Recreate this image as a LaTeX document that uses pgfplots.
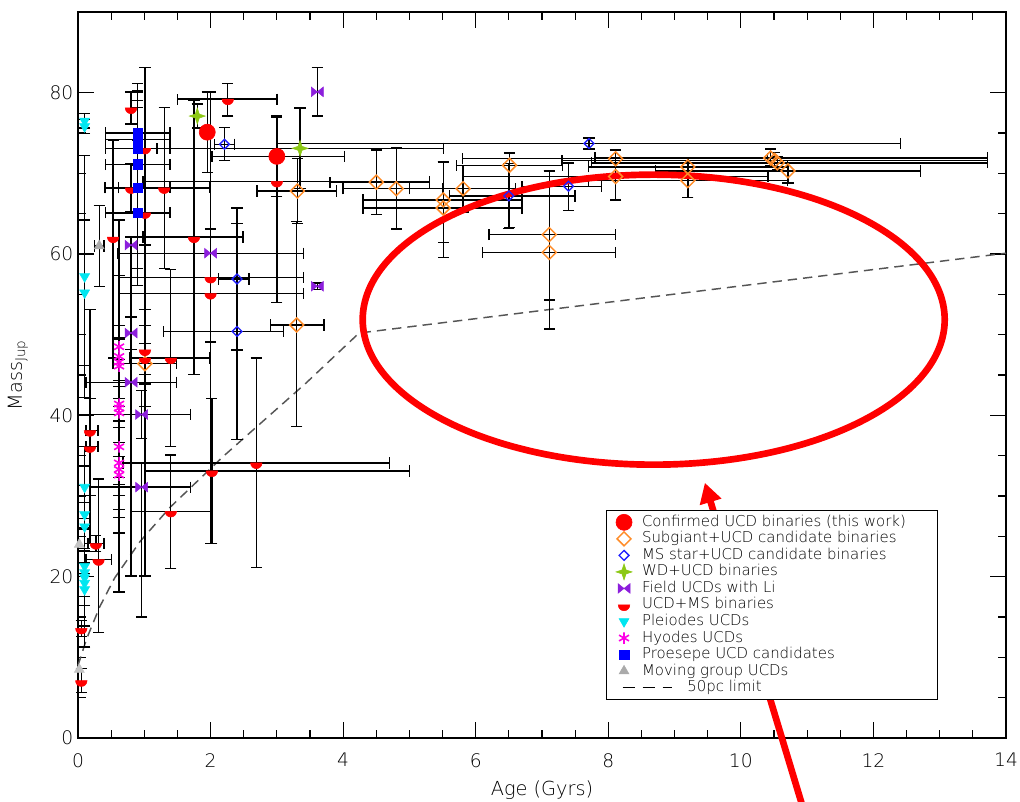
\documentclass[border=0pt]{standalone}
\usepackage{fontspec}
\setmainfont{DejaVu Sans ExtraLight}
\usepackage{pgfplots}
\pgfplotsset{compat=1.18}
\usetikzlibrary{arrows.meta}

\definecolor{cfred}{RGB}{255,0,0}
\definecolor{sgorange}{RGB}{255,140,40}
\definecolor{msblue}{RGB}{30,30,255}
\definecolor{wdgreen}{RGB}{140,200,20}
\definecolor{lipurple}{RGB}{140,30,220}
\definecolor{plcyan}{RGB}{0,230,240}
\definecolor{hymag}{RGB}{255,0,230}
\definecolor{prblue}{RGB}{0,0,255}
\definecolor{mggrey}{RGB}{170,170,170}
\definecolor{limgrey}{RGB}{85,85,85}

% lower half of a disc (UCD+MS binaries)
\pgfdeclareplotmark{halfdisc}{%
  \pgfpathmoveto{\pgfqpoint{-\pgfplotmarksize}{0pt}}%
  \pgfpathlineto{\pgfqpoint{\pgfplotmarksize}{0pt}}%
  \pgfpatharc{0}{-180}{\pgfplotmarksize}%
  \pgfpathclose
  \pgfusepathqfillstroke}
% four-pointed star (WD+UCD)
\pgfdeclareplotmark{star4}{%
  \pgfpathmoveto{\pgfqpoint{0pt}{\pgfplotmarksize}}%
  \pgfpathlineto{\pgfqpoint{0.25\pgfplotmarksize}{0.25\pgfplotmarksize}}%
  \pgfpathlineto{\pgfqpoint{\pgfplotmarksize}{0pt}}%
  \pgfpathlineto{\pgfqpoint{0.25\pgfplotmarksize}{-0.25\pgfplotmarksize}}%
  \pgfpathlineto{\pgfqpoint{0pt}{-\pgfplotmarksize}}%
  \pgfpathlineto{\pgfqpoint{-0.25\pgfplotmarksize}{-0.25\pgfplotmarksize}}%
  \pgfpathlineto{\pgfqpoint{-\pgfplotmarksize}{0pt}}%
  \pgfpathlineto{\pgfqpoint{-0.25\pgfplotmarksize}{0.25\pgfplotmarksize}}%
  \pgfpathclose
  \pgfusepathqfillstroke}
% bow tie (field UCDs with Li)
\pgfdeclareplotmark{bowtie}{%
  \pgfpathmoveto{\pgfqpoint{-\pgfplotmarksize}{0.8\pgfplotmarksize}}%
  \pgfpathlineto{\pgfqpoint{0pt}{0pt}}%
  \pgfpathlineto{\pgfqpoint{-\pgfplotmarksize}{-0.8\pgfplotmarksize}}%
  \pgfpathclose
  \pgfpathmoveto{\pgfqpoint{\pgfplotmarksize}{0.8\pgfplotmarksize}}%
  \pgfpathlineto{\pgfqpoint{0pt}{0pt}}%
  \pgfpathlineto{\pgfqpoint{\pgfplotmarksize}{-0.8\pgfplotmarksize}}%
  \pgfpathclose
  \pgfusepathqfillstroke}

\pgfplotsset{
  ebxy/.style={
    error bars/x dir=both, error bars/x explicit,
    error bars/y dir=both, error bars/y explicit,
    error bars/error bar style={black, line width=1pt},
    error bars/error mark options={rotate=90, black, line width=1pt, mark size=4.2pt}},
  eby/.style={
    error bars/y dir=both, error bars/y explicit,
    error bars/error bar style={black, line width=1pt},
    error bars/error mark options={rotate=90, black, line width=1pt, mark size=4.2pt}},
  table/txy/.style={x=x, y=y, x error minus=xm, x error plus=xp, y error minus=ym, y error plus=yp},
  table/ty/.style={x=x, y=y, y error minus=ym, y error plus=yp},
}

\begin{document}
\begin{tikzpicture}
\useasboundingbox (-58.5pt,-48pt) rectangle (706.5pt,553.5pt);
\begin{axis}[
  at={(0pt,0pt)}, anchor=origin,
  scale only axis, width=696pt, height=544.5pt,
  xmin=0, xmax=14, ymin=0, ymax=90,
  xtick={0,2,...,14}, ytick={0,20,...,80},
  minor x tick num=3, minor y tick num=3,
  major tick length=12pt, minor tick length=6pt,
  tick style={black, line width=0.8pt},
  axis line style={black, line width=1pt},
  tick label style={font=\fontsize{14}{14}\selectfont},
  /pgf/number format/assume math mode=true,
  xticklabel style={yshift=-8pt},
  xlabel={Age (Gyrs)},
  xlabel style={font=\fontsize{14.5}{15}\selectfont, at={(axis description cs:0.5,-0.072)}, anchor=center},
  ylabel={Mass\textsubscript{Jup}},
  ylabel style={font=\fontsize{14.5}{15}\selectfont, at={(axis description cs:-0.0647,0.5)}, anchor=center},
  clip=false,
  legend cell align=left,
  legend image code/.code={%
    \path (0pt,0pt) (14pt,0pt);
    \draw[mark repeat=2,mark phase=2] plot coordinates {(0pt,0pt)(7pt,0pt)(14pt,0pt)};},
  legend style={at={(0.569,0.314)}, anchor=north west, draw=black, line width=1pt,
    fill=white, inner xsep=5.5pt, inner ysep=2.5pt, column sep=0pt, row sep=0pt,
    font=\fontsize{11.2}{12}\selectfont,
    nodes={text height=8.8pt, text depth=2.8pt, inner ysep=0.4pt, inner xsep=6pt}},
]

% 50 pc detection limit
\addplot[limgrey, line width=1.1pt, dash pattern=on 7pt off 4.5pt, forget plot] coordinates {
  (0.00,9.0) (0.13,12.3) (0.33,16.3) (0.55,19.8) (0.94,24.4) (1.39,28.6)
  (2.19,34.9) (3.44,44.0) (4.24,50.2) (14.0,60.1)};

% Confirmed UCD binaries
\addplot[only marks, mark=*, mark size=6pt, cfred, mark options={line width=0.5pt, fill=cfred}, ebxy]
  table[txy] {
x y xm xp ym yp
3.00 72.1 0.98 1.02 5.0 5.0
};
\addlegendentry{Confirmed UCD binaries (this work)\makebox[12pt]{}}
\addplot[only marks, mark=*, mark size=6pt, cfred, mark options={line width=0.5pt, fill=cfred}, eby, forget plot]
  table[ty] {
x y ym yp
1.95 75.1 5.0 5.0
};

% Subgiant + UCD candidates
\addplot[only marks, mark=square, mark size=3.7pt, sgorange, mark options={rotate=45, line width=1.1pt, fill=none}, ebxy]
  table[txy] {
x y xm xp ym yp
1.01 46.4 0.48 0.48 2.5 2.5
3.31 67.8 0.61 0.59 4.0 4.0
3.30 51.2 0.40 0.41 12.6 12.8
4.50 68.9 0.70 0.80 4.0 4.0
4.80 68.1 0.80 0.70 5.0 5.1
5.51 66.7 1.21 1.19 7.1 4.7
5.51 65.7 1.21 1.19 4.3 5.7
5.81 68.1 0.81 0.79 2.9 2.9
6.51 71.0 0.80 0.80 7.7 1.5
7.11 62.4 0.91 1.00 11.7 7.9
7.11 60.2 1.01 1.00 5.9 10.1
8.11 71.8 2.31 2.29 5.1 1.1
8.11 69.6 2.31 2.30 2.9 3.3
9.20 70.8 1.50 1.50 3.8 1.2
9.20 69.1 1.50 1.50 2.1 2.9
10.45 71.9 2.65 3.27 1.0 1.1
10.51 71.6 3.21 3.21 0.9 1.0
10.55 71.3 2.80 3.17 0.8 0.8
10.71 70.3 2.00 2.00 1.5 1.0
};
\addlegendentry{Subgiant+UCD candidate binaries}

% MS star + UCD candidates
\addplot[only marks, mark=square, mark size=2.6pt, msblue, mark options={rotate=45, line width=1pt, fill=none}, ebxy]
  table[txy] {
x y xm xp ym yp
2.21 73.6 0.15 0.15 2.0 2.1
2.40 56.9 0.28 0.18 8.8 8.8
2.40 50.4 1.11 0.70 13.4 13.4
6.50 67.2 0.90 1.00 4.0 4.0
7.40 68.4 0.70 0.50 3.0 2.9
7.71 73.7 4.70 4.70 0.7 0.7
};
\addlegendentry{MS star+UCD candidate binaries}

% WD + UCD binaries
\addplot[only marks, mark=star4, mark size=6pt, wdgreen, mark options={line width=0.4pt, fill=wdgreen}, ebxy]
  table[txy] {
x y xm xp ym yp
3.35 73.1 2.16 2.16 5.0 5.0
};
\addlegendentry{WD+UCD binaries}
\addplot[only marks, mark=star4, mark size=6pt, wdgreen, mark options={line width=0.4pt, fill=wdgreen}, eby, forget plot]
  table[ty] {
x y ym yp
1.80 77.1 1.5 1.5
};

% Field UCDs with lithium
\addplot[only marks, mark=bowtie, mark size=4.5pt, lipurple, mark options={line width=0.4pt, fill=lipurple}, ebxy]
  table[txy] {
x y xm xp ym yp
2.00 60.1 1.40 1.40 3.0 3.0
0.80 44.1 0.68 0.69 24.0 17.0
0.96 40.1 0.96 0.74 3.0 3.0
0.96 31.1 0.78 0.74 16.1 3.0
};
\addlegendentry{Field UCDs with Li}
\addplot[only marks, mark=bowtie, mark size=4.5pt, lipurple, mark options={line width=0.4pt, fill=lipurple}, eby, forget plot]
  table[ty] {
x y ym yp
3.61 80.1 3.0 3.0
3.61 56.0 0.4 0.4
0.80 61.1 1.0 1.0
0.80 50.2 2.0 2.0
};

% UCD + MS binaries
\addplot[only marks, mark=halfdisc, mark size=4.3pt, cfred, mark options={line width=0.4pt, fill=cfred}, ebxy]
  table[txy] {
x y xm xp ym yp
2.26 79.2 0.76 0.74 2.1 1.9
3.00 69.0 2.02 2.30 15.0 8.0
0.80 68.2 0.40 0.59 3.0 3.0
1.30 68.2 0.69 0.69 10.0 10.0
1.75 62.1 0.77 0.74 17.0 17.0
2.00 57.1 1.39 1.40 8.0 23.0
2.00 55.1 1.39 1.40 31.0 5.0
1.40 47.1 0.62 0.59 11.0 11.0
2.02 33.1 1.02 2.98 9.0 9.0
2.69 34.1 2.01 2.01 13.0 13.0
1.40 28.1 0.59 0.60 7.1 7.0
0.18 38.1 0.06 0.12 8.0 15.0
0.18 36.1 0.06 0.12 12.0 6.0
0.27 24.1 0.12 0.12 1.0 1.0
0.31 22.1 0.19 0.20 9.0 10.0
};
\addlegendentry{UCD+MS binaries}
\addplot[only marks, mark=halfdisc, mark size=4.3pt, cfred, mark options={line width=0.4pt, fill=cfred}, eby, forget plot]
  table[ty] {
x y ym yp
0.80 78.1 2.0 2.0
1.01 73.1 12.0 10.0
1.01 65.1 45.0 10.0
0.53 62.1 15.0 12.0
1.01 48.1 3.0 3.0
1.01 47.1 6.0 6.0
0.05 13.6 1.0 1.0
0.05 7.1 1.5 1.5
};

% Pleiades
\addplot[only marks, mark=triangle*, mark size=4.3pt, plcyan, mark options={rotate=180, line width=0.4pt, fill=plcyan}, eby]
  table[ty] {
x y ym yp
0.10 76.5 0.9 0.9
0.10 75.8 0.9 0.9
0.10 57.2 15.0 15.0
0.10 55.2 9.0 9.0
0.10 31.1 5.0 5.0
0.10 27.7 6.0 6.0
0.10 26.2 3.0 3.0
0.10 21.3 10.0 10.0
0.10 20.5 3.0 3.0
0.10 19.9 6.0 6.0
0.10 19.2 8.0 8.0
0.10 18.4 2.0 2.0
};
\addlegendentry{Pleiodes UCDs}

% Hyades
\addplot[only marks, mark=asterisk, mark size=4.3pt, hymag, mark options={line width=1.2pt}, eby]
  table[ty] {
x y ym yp
0.62 48.5 10.0 15.7
0.62 47.3 15.0 10.0
0.62 46.6 3.0 3.0
0.62 46.1 5.0 5.0
0.62 41.4 10.0 8.0
0.62 40.9 6.0 6.0
0.62 40.3 12.0 4.0
0.62 36.1 6.0 6.0
0.62 34.1 16.0 6.0
0.62 33.3 6.0 6.0
0.62 32.6 7.2 4.0
};
\addlegendentry{Hyodes UCDs}

% Praesepe
\addplot[only marks, mark=square*, mark size=3.6pt, prblue, mark options={line width=0.4pt, fill=prblue}, ebxy]
  table[txy] {
x y xm xp ym yp
0.90 75.0 0.49 0.49 4.0 4.0
0.90 74.2 0.49 0.49 6.0 6.0
0.90 73.1 0.49 0.49 8.0 8.0
0.90 71.1 0.49 0.49 9.0 9.0
0.90 68.2 0.49 0.49 10.0 10.0
0.90 65.1 0.49 0.49 9.0 9.0
};
\addlegendentry{Proesepe UCD candidates}

% Moving groups
\addplot[only marks, mark=triangle*, mark size=4.3pt, mggrey, mark options={line width=0.4pt, fill=mggrey}, ebxy]
  table[txy] {
x y xm xp ym yp
0.32 61.0 0.07 0.07 5.0 5.0
};
\addlegendentry{Moving group UCDs}
\addplot[only marks, mark=triangle*, mark size=4.3pt, mggrey!70, mark options={line width=0.4pt, fill=mggrey!70}, forget plot]
  coordinates {(0.02,24.0) (0.02,8.5)};

\addlegendimage{black, line width=1pt, legend image code/.code={%
  \path (0pt,0pt) (14pt,0pt);
  \draw[overlay, dash pattern=on 9pt off 6pt] (6pt,0pt) -- (43pt,0pt);}}
\addlegendentry{\hspace{34pt}50pc limit}

% highlight of the empty old-age region
\draw[red, line width=5pt] (axis cs:8.685,51.86) ellipse [x radius=218.25pt, y radius=108.75pt];
\draw[red, line width=5pt, -{Triangle[length=15pt,width=16pt]}] (axis cs:10.935,-8.6) -- (axis cs:9.457,31.64);
\end{axis}
\end{tikzpicture}
\end{document}
